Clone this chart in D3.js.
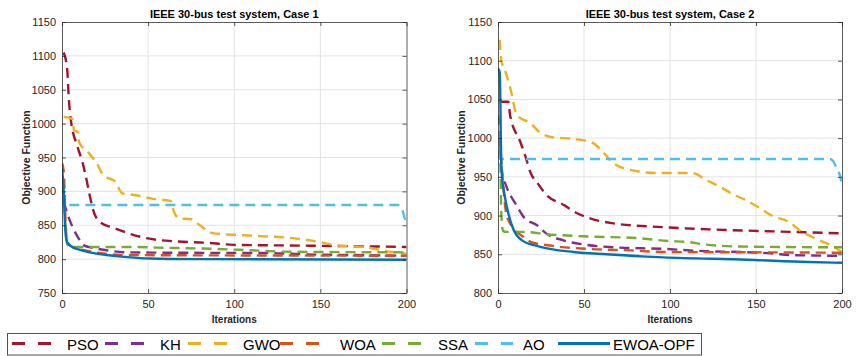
<!DOCTYPE html>
<html>
<head>
<meta charset="utf-8">
<script src="https://cdn.jsdelivr.net/npm/d3@7"></script>
<style>
  html, body { margin: 0; padding: 0; background: #fff; }
  svg { display: block; font-family: "Liberation Sans", Arial, sans-serif; }
</style>
</head>
<body>
<svg id="chart" width="860" height="356"></svg>
<script>
// ---------------- DATA ----------------
const seriesNames = ["PSO", "KH", "GWO", "WOA", "SSA", "AO", "EWOA-OPF"];
const seriesColors = ["#A2142F", "#7E2F8E", "#EDB120", "#D95319", "#77AC30", "#4DBEEE", "#0072BD"];
const xTicks = [0, 50, 100, 150, 200];
const yTicksCase1 = [750, 800, 850, 900, 950, 1000, 1050, 1100, 1150];
const yTicksCase2 = [800, 850, 900, 950, 1000, 1050, 1100, 1150];
const titles = ["IEEE 30-bus test system, Case 1", "IEEE 30-bus test system, Case 2"];

// Case 1: [iteration, objective]
const case1PSO = [[1,1105],[3,1080],[4,1035],[5,1008],[9,966],[12,942],[14,920],[16,895],[18,873],[22,855],[30,846],[49,831],[67,826],[85,824],[100,821],[138,820],[200,818]];
const case1KH = [[1,885],[3,868],[6,848],[10,829],[12,821],[19,816],[26,813],[38,810],[60,809.5],[120,809],[142,807],[170,806],[200,805]];
const case1GWO = [[1,1010],[6,1007],[7,990],[9,988],[10,972],[15,958],[20,942],[24,924],[31,914],[35,897],[41,895],[53,889],[63,886],[65,870],[68,860],[75,859],[80,850],[88,838],[100,836],[115,834],[134,831],[150,825],[160,820],[175,818],[190,811],[200,808]];
const case1WOA = [[0,942],[1,930],[2,860],[3,825],[6,818],[15,812],[22,809],[38,806],[200,805]];
const case1SSA = [[0,905],[1,890],[2,850],[3,822],[5,818],[40,818],[55,817],[90,815],[110,813],[130,811],[200,810]];
const case1AO = [[0,895],[1,880],[195,880],[197,876],[199,860],[200,852]];
const case1EWOA = [[0,935],[1,900],[2,840],[3,825],[6,818],[10,814],[16,810],[26,806],[38,803],[51,801],[80,800],[200,799]];

// Case 2
const case2PSO = [[1,1047],[6,1047],[7,1030],[13,995],[16,976],[19,955],[23,942],[28,927],[38,914],[46,903],[54,896],[67,890],[96,885],[125,882],[154,880],[200,877]];
const case2KH = [[1,985],[2,960],[5,937],[10,916],[15,898],[23,887],[28,877],[38,868],[52,862],[67,859],[96,857],[121,854],[141,853],[160,851],[170,849],[200,848]];
const case2GWO = [[1,1127],[2,1100],[4,1088],[7,1066],[11,1030],[19,1019],[24,1008],[32,1001],[44,999],[55,994],[61,982],[67,968],[77,959],[92,955],[113,955],[121,946],[130,936],[137,927],[145,919],[152,910],[160,899],[169,892],[176,880],[183,872],[193,862],[200,853]];
const case2WOA = [[1,1000],[3,940],[5,900],[9,884],[15,872],[19,866],[28,862],[52,857],[77,855],[96,853],[154,852.5],[200,852]];
const case2SSA = [[0,1030],[1,1010],[2,900],[3,880],[5,879],[15,879],[28,876],[52,873],[80,871],[100,867],[110,866],[119,863],[129,861],[141,860],[200,859]];
const case2AO = [[0,980],[1,973],[193,973],[195,970],[197,960],[199,950],[200,938]];
const case2EWOA = [[0,1090],[1,1085],[2,960],[4,924],[6,903],[9,882],[14,868],[24,860],[44,853],[63,850],[96,846],[145,843],[180,840],[200,839]];

const case1Series = [case1PSO, case1KH, case1GWO, case1WOA, case1SSA, case1AO, case1EWOA];
const case2Series = [case2PSO, case2KH, case2GWO, case2WOA, case2SSA, case2AO, case2EWOA];

// ---------------- DRAW ----------------
const svg = d3.select("#chart");
const axisColor = "#262626";
const gridColor = "#e3e3e3";
const fmt = d3.format("d");

const panels = [
  { left: 62, right: 406.5, top: 22, bottom: 293, yDomain: [750, 1150], yTicks: yTicksCase1, series: case1Series, title: titles[0], ylabX: 26, id: "c1" },
  { left: 498, right: 842, top: 22, bottom: 293, yDomain: [800, 1150], yTicks: yTicksCase2, series: case2Series, title: titles[1], ylabX: 461, id: "c2" }
];

panels.forEach(p => {
  const x = d3.scaleLinear().domain([0, 200]).range([p.left, p.right]);
  const y = d3.scaleLinear().domain(p.yDomain).range([p.bottom, p.top]);
  const g = svg.append("g");

  svg.append("clipPath").attr("id", "clip-" + p.id)
    .append("rect").attr("x", p.left).attr("y", p.top)
    .attr("width", p.right - p.left).attr("height", p.bottom - p.top);

  // grid
  g.append("g").selectAll("line").data(xTicks.slice(1, -1)).join("line")
    .attr("x1", d => x(d)).attr("x2", d => x(d))
    .attr("y1", p.top).attr("y2", p.bottom)
    .attr("stroke", gridColor).attr("stroke-width", 1);
  g.append("g").selectAll("line").data(p.yTicks.slice(1, -1)).join("line")
    .attr("y1", d => y(d)).attr("y2", d => y(d))
    .attr("x1", p.left).attr("x2", p.right)
    .attr("stroke", gridColor).attr("stroke-width", 1);

  // series
  const line = d3.line().x(d => x(d[0])).y(d => y(d[1])).curve(d3.curveMonotoneX);
  const lg = g.append("g").attr("clip-path", "url(#clip-" + p.id + ")");
  p.series.forEach((s, i) => {
    lg.append("path").datum(s)
      .attr("d", line)
      .attr("fill", "none")
      .attr("stroke", seriesColors[i])
      .attr("stroke-width", 2.4)
      .attr("stroke-dasharray", i === 6 ? null : "10,6")
      .attr("stroke-linejoin", "round");
  });

  // axes (MATLAB box style, ticks inward)
  const xAxisB = d3.axisBottom(x).tickValues(xTicks).tickFormat(fmt).tickSizeInner(-4).tickSizeOuter(0).tickPadding(7);
  const yAxisL = d3.axisLeft(y).tickValues(p.yTicks).tickFormat(fmt).tickSizeInner(-4).tickSizeOuter(0).tickPadding(6);
  const xAxisT = d3.axisTop(x).tickValues(xTicks).tickSizeInner(-4).tickSizeOuter(0).tickFormat("");
  const yAxisR = d3.axisRight(y).tickValues(p.yTicks).tickSizeInner(-4).tickSizeOuter(0).tickFormat("");

  const styleAxis = sel => {
    sel.selectAll("path").attr("stroke", axisColor).attr("stroke-width", 1).attr("opacity", 0.75);
    sel.selectAll("line").attr("stroke", axisColor).attr("opacity", 0.75);
    sel.selectAll("text").attr("fill", axisColor).style("font-size", "11px");
  };
  g.append("g").attr("transform", `translate(0,${p.bottom})`).call(xAxisB).call(styleAxis);
  g.append("g").attr("transform", `translate(${p.left},0)`).call(yAxisL).call(styleAxis);
  g.append("g").attr("transform", `translate(0,${p.top})`).call(xAxisT).call(styleAxis);
  g.append("g").attr("transform", `translate(${p.right},0)`).call(yAxisR).call(styleAxis);

  // title
  g.append("text").attr("x", (p.left + p.right) / 2).attr("y", 18)
    .attr("text-anchor", "middle").attr("font-weight", "bold")
    .style("font-size", "11px").attr("fill", "#000").text(p.title);

  // x label
  g.append("text").attr("x", (p.left + p.right) / 2).attr("y", 323)
    .attr("text-anchor", "middle").attr("font-weight", "bold")
    .style("font-size", "10px").attr("fill", axisColor).text("Iterations");

  // y label
  g.append("text").attr("transform", `translate(${p.ylabX + 3.5},${(p.top + p.bottom) / 2}) rotate(-90)`)
    .attr("text-anchor", "middle").attr("font-weight", "bold")
    .style("font-size", "10.5px").attr("fill", axisColor).text("Objective Function");
});

// ---------------- LEGEND ----------------
const legendItems = [
  { x1: 12, x2: 52, tx: 67 },
  { x1: 105, x2: 148, tx: 160 },
  { x1: 188, x2: 236, tx: 243 },
  { x1: 280, x2: 325, tx: 340 },
  { x1: 382, x2: 423, tx: 438 },
  { x1: 475, x2: 513, tx: 523 },
  { x1: 558, x2: 610, tx: 613 }
];
const leg = svg.append("g");
leg.append("rect").attr("x", 7.5).attr("y", 333.5).attr("width", 694).attr("height", 21.5)
  .attr("fill", "#fff").attr("stroke", "#262626").attr("stroke-width", 1).attr("opacity", 0.8);
seriesNames.forEach((name, i) => {
  const it = legendItems[i];
  leg.append("line").attr("x1", it.x1).attr("x2", it.x2).attr("y1", 343.5).attr("y2", 343.5)
    .attr("stroke", seriesColors[i]).attr("stroke-width", 3.2)
    .attr("stroke-dasharray", i === 6 ? null : "13,13");
  leg.append("text").attr("x", it.tx).attr("y", 349.5)
    .style("font-size", "15px").attr("fill", "#000").text(name);
});
</script>
</body>
</html>
